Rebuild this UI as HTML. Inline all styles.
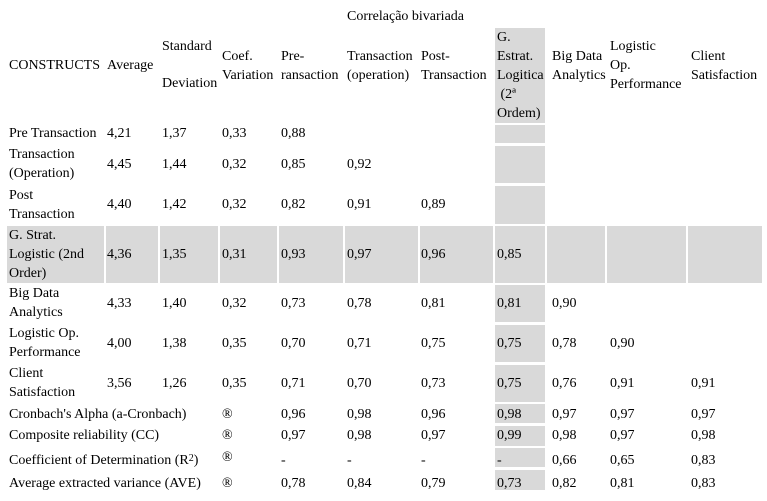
<!DOCTYPE html>
<html><head><meta charset="utf-8"><style>
body{margin:0;width:767px;height:501px;background:#fff;position:relative;overflow:hidden;font-family:"Liberation Serif",serif;font-size:14px;color:#000}
.t{position:absolute;white-space:nowrap;line-height:19px}
.g{position:absolute;background:#d9d9d9}
</style></head><body>
<div id="root"></div>
<script>
const colX=[9,107,162,222,281,347,421,497,552,610,691];
const cellEdges=[[7,104],[106,158],[160,218],[220,277],[279,343],[345,418],[420,493],[495,545],[547,605],[607,686],[688,762]];
const headerLabels=[["CONSTRUCTS"],["Average"],["Standard","","Deviation"],["Coef.","Variation"],["Pre-","ransaction"],["Transaction","(operation)"],["Post-","Transaction"],["G.","Estrat.","Logitica","&nbsp;(2ª","Ordem)"],["Big Data","Analytics"],["Logistic","Op.","Performance"],["Client","Satisfaction"]];
const rowLabels=[["Pre Transaction"],["Transaction","(Operation)"],["Post","Transaction"],["G. Strat.","Logistic (2nd","Order)"],["Big Data","Analytics"],["Logistic Op.","Performance"],["Client","Satisfaction"]];
const rowVals=[
["4,21","1,37","0,33","0,88","","","","","",""],
["4,45","1,44","0,32","0,85","0,92","","","","",""],
["4,40","1,42","0,32","0,82","0,91","0,89","","","",""],
["4,36","1,35","0,31","0,93","0,97","0,96","0,85","","",""],
["4,33","1,40","0,32","0,73","0,78","0,81","0,81","0,90","",""],
["4,00","1,38","0,35","0,70","0,71","0,75","0,75","0,78","0,90",""],
["3,56","1,26","0,35","0,71","0,70","0,73","0,75","0,76","0,91","0,91"]];
const statLabels=["Cronbach's Alpha (a-Cronbach)","Composite reliability (CC)","Coefficient of Determination (R<sup style='font-size:10px;position:relative;top:-2px;vertical-align:top'>2</sup>)","Average extracted variance (AVE)"];
const statVals=[
["0,96","0,98","0,96","0,98","0,97","0,97","0,97"],
["0,97","0,98","0,97","0,99","0,98","0,97","0,98"],
["-","-","-","-","0,66","0,65","0,83"],
["0,78","0,84","0,79","0,73","0,82","0,81","0,83"]];
const rowBounds=[[125,143],[146,183],[186,224],[226,283],[285,322],[325,362],[365,402]];
const statBounds=[[404,425],[426,446],[448,475],[470,498]];
const root=document.getElementById('root');
function box(x,y,w,h){const d=document.createElement('div');d.className='g';d.style.left=x+'px';d.style.top=y+'px';d.style.width=w+'px';d.style.height=h+'px';


root.appendChild(d);}
function txt(s,x,cy,name){const d=document.createElement('div');d.className='t';d.innerHTML=s;d.style.left=x+'px';d.style.top=(cy-10)+'px';


root.appendChild(d);}
const gc=cellEdges[7];
box(gc[0],28,gc[1]-gc[0],95);
[[125,143],[146,183],[186,224]].forEach(b=>box(gc[0],b[0],gc[1]-gc[0],b[1]-b[0]));
cellEdges.forEach(e=>box(e[0],226,e[1]-e[0],57));
[[285,322],[325,362],[365,402],[404,423],[426,446],[448,467],[470,490]].forEach(b=>box(gc[0],b[0],gc[1]-gc[0],b[1]-b[0]));
txt("Correlação bivariada",347,17,'group-header');
headerLabels.forEach((lines,i)=>{const n=lines.length;const start=i==7?38:(66-(n-1)*19/2);
 if(i==2){txt(lines[0],colX[i],47,'column-header');txt(lines[2],colX[i],84,'column-header');return;}
 lines.forEach((l,k)=>txt(l,colX[i],start+k*19,'column-header'));});
rowLabels.forEach((lines,r)=>{const b=rowBounds[r];const c=(b[0]+b[1])/2;const n=lines.length;
 lines.forEach((l,k)=>txt(l,colX[0],c-(n-1)*19/2+k*19,'row-label'));
 rowVals[r].forEach((v,j)=>{if(v)txt(v,colX[j+1],c,'value-cell');});});
statLabels.forEach((l,r)=>{const b=statBounds[r];const c=(b[0]+b[1])/2-(r==2?1:0);
 txt(l,colX[0],c,'stat-label');txt('®',colX[3],r==2?c-3:c,'stat-marker');
 statVals[r].forEach((v,j)=>txt(v,colX[j+4],c,'value-cell'));});
</script>
</body></html>
